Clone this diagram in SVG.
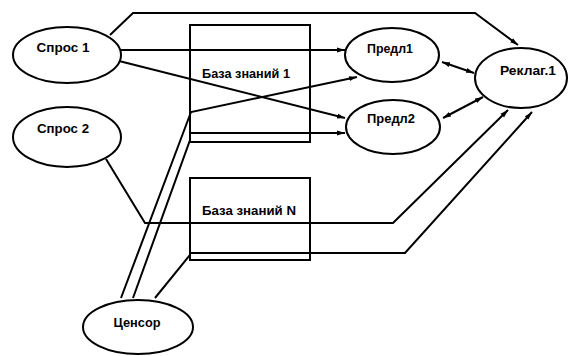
<svg xmlns="http://www.w3.org/2000/svg" width="573" height="356" viewBox="0 0 573 356">
<style>
.n{fill:#fff;stroke:#000;stroke-width:2}
.b{fill:none;stroke:#000;stroke-width:2}
.c{fill:none;stroke:#000;stroke-width:2}
.t{font-family:"Liberation Sans",Arial,sans-serif;font-weight:bold;font-size:12.5px;fill:#000;text-anchor:middle}
</style>
<defs>
<marker id="a" markerUnits="userSpaceOnUse" markerWidth="8" markerHeight="6" refX="8" refY="3" orient="auto-start-reverse">
<path d="M0,0.5 L8,3 L0,5.5 Z" fill="#000"/>
</marker>
</defs>
<rect width="573" height="356" fill="#fff"/>
<g id="kb1"><rect class="b" x="190" y="25" width="120" height="117"/><text class="t" x="246" y="78" textLength="88" lengthAdjust="spacingAndGlyphs">База знаний 1</text></g>
<g id="kbN"><rect class="b" x="190" y="178" width="120" height="82"/><text class="t" x="249" y="215" textLength="94" lengthAdjust="spacingAndGlyphs">База знаний N</text></g>
<g id="connectors">
<polyline class="c" points="110,35 133,13 475,13 518,45" marker-end="url(#a)"/>
<line class="c" x1="121" y1="50" x2="345" y2="50" marker-end="url(#a)"/>
<line class="c" x1="119" y1="61" x2="345" y2="118" marker-end="url(#a)"/>
<polyline class="c" points="121,298 191,112 357,77" marker-end="url(#a)"/>
<polyline class="c" points="133,298 190,140 190,133 345,133" marker-end="url(#a)"/>
<polyline class="c" points="106,159 145,223 393,223 508,110" marker-end="url(#a)"/>
<polyline class="c" points="155,298 190,255 190,253 405,253 532,112" marker-end="url(#a)"/>
<line class="c" x1="442" y1="62" x2="474" y2="73" marker-start="url(#a)" marker-end="url(#a)"/>
<line class="c" x1="443" y1="118" x2="483" y2="97" marker-start="url(#a)" marker-end="url(#a)"/>
</g>
<g id="spros1"><ellipse class="n" cx="67" cy="55" rx="54" ry="28"/><text class="t" x="63" y="52" textLength="53" lengthAdjust="spacingAndGlyphs">Спрос 1</text></g>
<g id="spros2"><ellipse class="n" cx="67" cy="137" rx="54" ry="30"/><text class="t" x="63" y="133" textLength="52" lengthAdjust="spacingAndGlyphs">Спрос 2</text></g>
<g id="predl1"><ellipse class="n" cx="392" cy="55" rx="47" ry="27"/><text class="t" x="390" y="53" textLength="46" lengthAdjust="spacingAndGlyphs">Предл1</text></g>
<g id="predl2"><ellipse class="n" cx="393" cy="127" rx="47" ry="27"/><text class="t" x="391" y="123" textLength="48" lengthAdjust="spacingAndGlyphs">Предл2</text></g>
<g id="reklag"><ellipse class="n" cx="521" cy="78" rx="46" ry="30"/><text class="t" x="528" y="75" textLength="56" lengthAdjust="spacingAndGlyphs">Реклаг.1</text></g>
<g id="censor"><ellipse class="n" cx="138" cy="327" rx="55" ry="27"/><text class="t" x="137" y="327" textLength="47" lengthAdjust="spacingAndGlyphs">Ценсор</text></g>
</svg>
